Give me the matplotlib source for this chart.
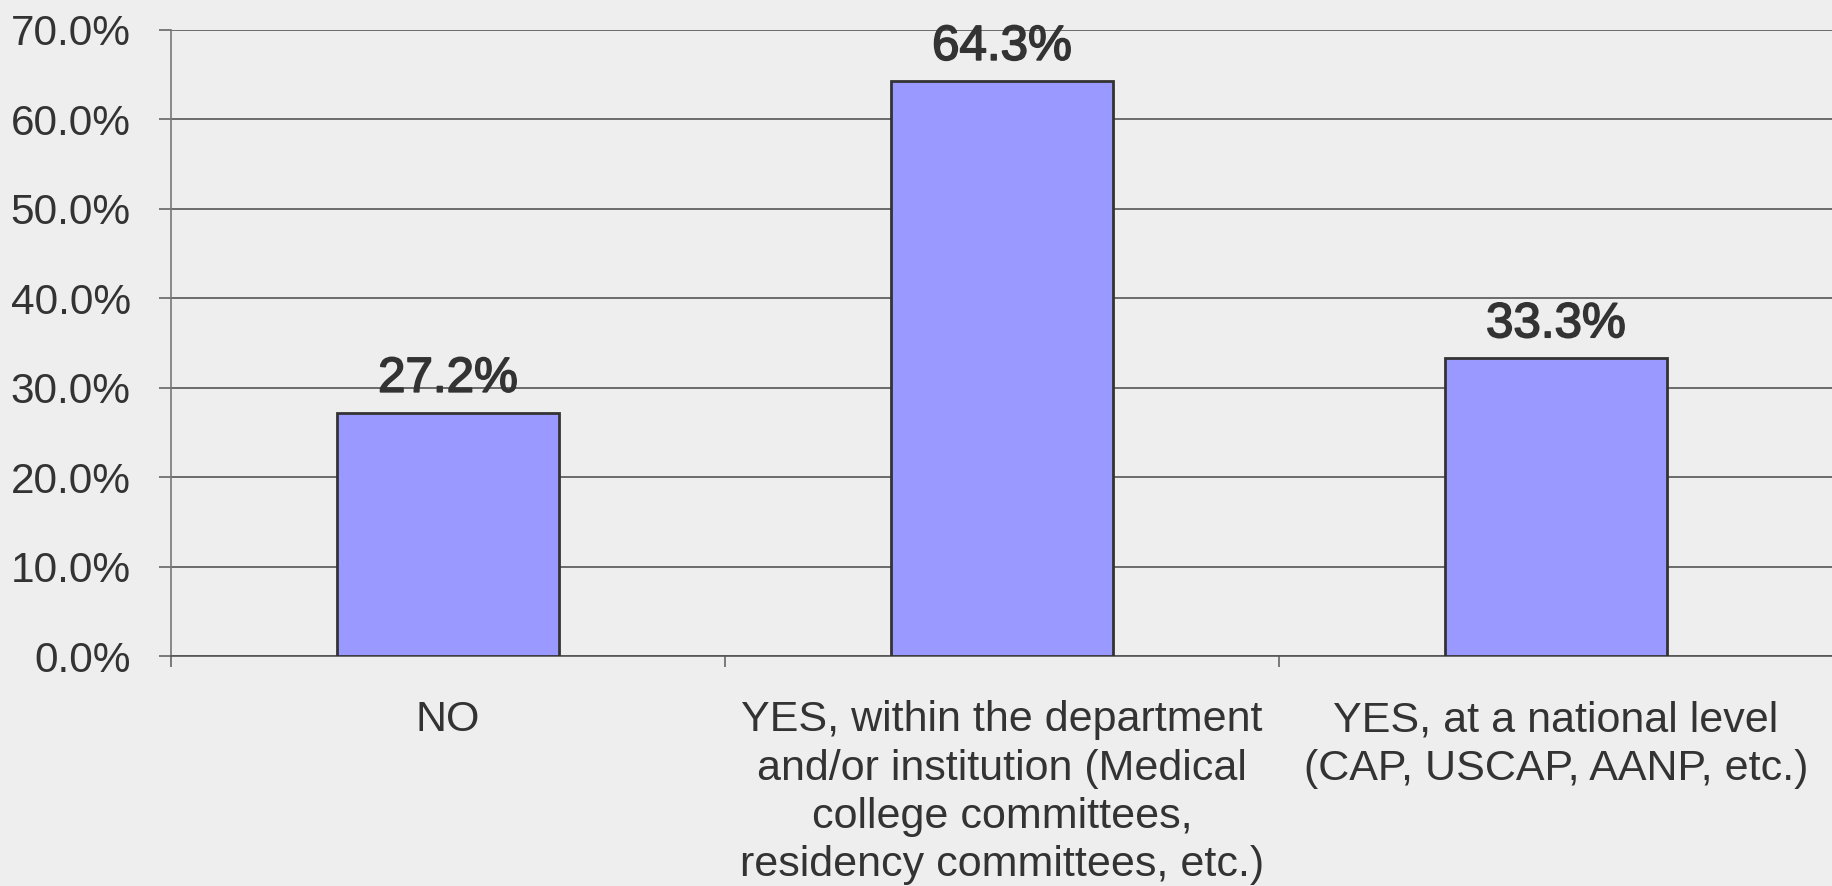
import matplotlib.pyplot as plt
import matplotlib.patheffects as pe

# categories and survey shares (percent)
categories = ['NO',
              'YES, within the department\nand/or institution (Medical\ncollege committees,\nresidency committees, etc.)',
              'YES, at a national level\n(CAP, USCAP, AANP, etc.)']
values = [27.2, 64.3, 33.3]
yticks = [0, 10, 20, 30, 40, 50, 60, 70]

plt.rcParams['font.family'] = ['Liberation Sans', 'DejaVu Sans']

fig = plt.figure(figsize=(18.33, 8.86), dpi=100, facecolor='#eeeeee')
ax = fig.add_axes([171/1833, 1 - 656/886, 1 - 171/1833, (656 - 29.7)/886])
ax.set_facecolor('#eeeeee')

x = range(len(values))
ax.bar(x, values, width=0.4, color='#9999ff', edgecolor='#333333', linewidth=2, zorder=3)

# value labels, a bit heavier than the axis text
for xi, v in zip(x, values):
    ax.annotate(f'{v:.1f}%', (xi, v), xytext=(0, 15), textcoords='offset points',
                ha='center', va='baseline', fontsize=35.5, color='#333333',
                path_effects=[pe.withStroke(linewidth=1.2, foreground='#333333')])

ax.set_ylim(0, 70)
ax.set_xlim(-0.5, 2.5)
ax.set_yticks(yticks)
ax.set_yticklabels([f'{t:.1f}%' for t in yticks])
ax.yaxis.grid(True, color='#555555', linewidth=1.2, zorder=0)
ax.tick_params(axis='y', length=9, width=1.2, color='#666666', labelsize=30.5,
               labelcolor='#333333', pad=20)

# ticks at category boundaries, labels at the centers
ax.set_xticks([-0.5, 0.5, 1.5, 2.5])
ax.set_xticklabels([])
ax.set_xticks(list(x), minor=True)
ax.set_xticklabels(categories, minor=True, linespacing=1.26)
ax.tick_params(axis='x', which='major', length=8, width=1.2, color='#666666')
ax.tick_params(axis='x', which='minor', length=0, labelsize=31,
               labelcolor='#333333', pad=32)

for s in ['top', 'right']:
    ax.spines[s].set_visible(False)
ax.spines['left'].set_color('#777777')
ax.spines['left'].set_linewidth(1.2)
ax.spines['bottom'].set_color('#555555')
ax.spines['bottom'].set_linewidth(1.2)

fig.savefig('out.png', dpi=100, facecolor='#eeeeee')
